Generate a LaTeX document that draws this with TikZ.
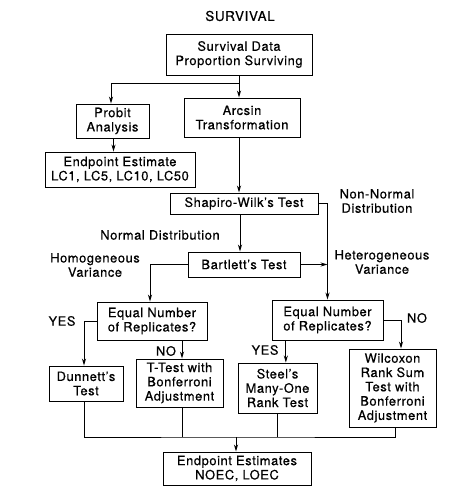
\documentclass[tikz,border=0pt]{standalone}
\usepackage{fontspec}
\setmainfont{TeX Gyre Heros}[LetterSpace=4.5, FakeBold=0.5]
\usetikzlibrary{arrows.meta, positioning, calc}

\begin{document}
\begin{tikzpicture}[
    x=0.03cm, y=-0.03cm,
    font=\fontsize{11}{12.2}\selectfont,
    process/.style={rectangle, draw, line width=0.8pt, align=center, inner sep=1pt},
    note/.style={align=center, inner sep=0pt},
    arrow/.style={line width=0.8pt, -{Stealth[length=6pt, width=3.5pt]}},
    line/.style={line width=0.8pt}
]
\useasboundingbox (0,0) rectangle (463,488);

% Nodes
\node (title) [note, font=\fontsize{11.5}{13}\selectfont] at (240,16) {SURVIVAL};
\node (data) [process, minimum width=4.38cm, minimum height=1.23cm] at (239,54.5) {Survival Data\\Proportion Surviving};
\node (probit) [process, minimum width=2.19cm, minimum height=1.02cm] at (112.5,121) {Probit\\Analysis};
\node (arcsin) [process, minimum width=3.48cm, minimum height=1.17cm] at (242,117.5) {Arcsin\\Transformation};
\node (lcest) [process, minimum width=4.5cm, minimum height=1.05cm] at (120,169.5) {Endpoint Estimate\\LC1, LC5, LC10, LC50};
\node (shapiro) [process, minimum width=4.44cm, minimum height=0.63cm] at (244,203.5) {Shapiro-Wilk's Test};
\node (bartlett) [process, minimum width=3.36cm, minimum height=0.75cm] at (244,264.5) {Bartlett's Test};
\node (eqa) [process, minimum width=3.3cm, minimum height=1.14cm] at (152,321) {Equal Number\\of Replicates?};
\node (eqb) [process, minimum width=3.33cm, minimum height=1.2cm] at (327.5,320) {Equal Number\\of Replicates?};
\node (dunnett) [process, minimum width=2.22cm, minimum height=1.05cm] at (86,383.5) {Dunnett's\\Test};
\node (ttest) [process, minimum width=2.61cm, minimum height=1.44cm] at (179.5,383) {T-Test with\\Bonferroni\\Adjustment};
\node (steel) [process, minimum width=2.37cm, minimum height=1.5cm] at (277.5,388) {Steel's\\Many-One\\Rank Test};
\node (wilcoxon) [process, minimum width=2.61cm, minimum height=2.34cm] at (392.5,388) {Wilcoxon\\Rank Sum\\Test with\\Bonferroni\\Adjustment};
\node (final) [process, minimum width=4.44cm, minimum height=0.99cm] at (237,468.5) {Endpoint Estimates\\NOEC, LOEC};

% Labels
\node (nonnormal) [note] at (377,201) {Non-Normal\\Distribution};
\node (normal) [note] at (160,235) {Normal Distribution};
\node (homog) [note] at (95,265) {Homogeneous\\Variance};
\node (heterog) [note] at (382,262) {Heterogeneous\\Variance};
\node (yesa) [note] at (62,321) {YES};
\node (noa) [note] at (166,351) {NO};
\node (yesb) [note] at (265,350) {YES};
\node (nob) [note] at (417,318) {NO};

\coordinate (split) at (239,83);
\coordinate (bus) at (236,437);

% Connections
\draw [line] (data.south -| split) -- (split);
\draw [arrow] (split) -- (split |- arcsin.north);
\draw [arrow] (split) -| ([xshift=-0.045cm]probit.north);
\draw [arrow] ([xshift=0.03cm]probit.south) -- ([xshift=0.03cm]probit.south |- lcest.north);
\draw [arrow] (split |- arcsin.south) -- (split |- shapiro.north);
\draw [arrow] ([xshift=-0.12cm]shapiro.south) -- ([xshift=-0.12cm]bartlett.north);
\draw [arrow] (shapiro.east) -| (eqb.north);
\draw [arrow] (bartlett.east) -- (bartlett.east -| eqb.north);
\draw [arrow] (bartlett.west) -| ([xshift=-0.06cm]eqa.north);
\draw [arrow] (eqa.west) -| ([xshift=-0.06cm]dunnett.north);
\draw [arrow] ([xshift=0.9cm]eqa.south) -- ([xshift=0.9cm]eqa.south |- ttest.north);
\draw [arrow] ([xshift=-1.25cm]eqb.south) -- ([xshift=-1.25cm]eqb.south |- steel.north);
\draw [arrow] (eqb.east) -| ([xshift=0.255cm]wilcoxon.north);
\draw [line] ([xshift=-0.06cm]dunnett.south) |- (bus) -| ([xshift=0.1cm]wilcoxon.south);
\draw [line] ([xshift=0.075cm]ttest.south) -- ([xshift=0.075cm]ttest.south |- bus);
\draw [line] (steel.south) -- (steel.south |- bus);
\draw [arrow] (bus) -- (final.north -| bus);

\end{tikzpicture}
\end{document}
